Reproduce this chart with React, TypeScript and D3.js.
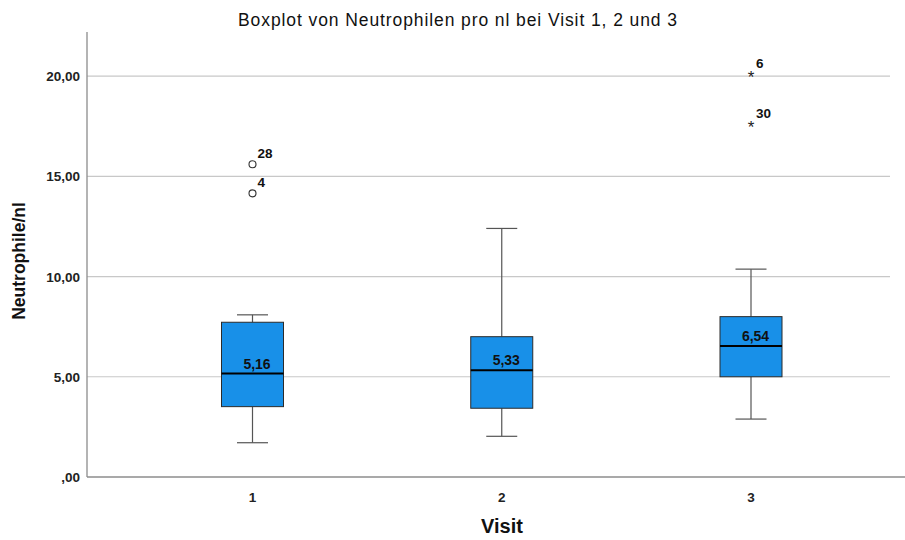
import { useEffect, useRef } from 'react';
import * as d3 from 'd3';

const visits = ['1', '2', '3'];
const lowWhisker = [1.71, 2.03, 2.89];
const q1 = [3.51, 3.43, 5.0];
const median = [5.16, 5.33, 6.54];
const q3 = [7.72, 7.0, 8.0];
const highWhisker = [8.09, 12.4, 10.37];
// outliers: visit, value, case id, kind
const outlierVisit = ['1', '1', '3', '3'];
const outlierValue = [15.6, 14.15, 20.1, 17.59];
const outlierCase = ['28', '4', '6', '30'];
const outlierKind = ['circle', 'circle', 'star', 'star'];
const yTicks = [0, 5, 10, 15, 20];

const fmt = (v: number) => (v === 0 ? ',00' : v.toFixed(2).replace('.', ','));

export default function App() {
  const ref = useRef<SVGSVGElement | null>(null);

  useEffect(() => {
    if (!ref.current) return;
    const svg = d3.select(ref.current);
    svg.selectAll('*').remove();

    const width = 905;
    const height = 540;
    const left = 87;
    const right = 890;
    const top = 32;
    const bottom = 477;

    const y = d3.scaleLinear().domain([0, 22.2]).range([bottom, top]);
    const x = d3.scalePoint().domain(visits).range([252.5, 751]);
    const boxW = 62;
    const capW = 31;
    const font = 'Arial, "Liberation Sans", sans-serif';

    svg.attr('width', width).attr('height', height).style('font-family', font);

    // grid
    svg.append('g')
      .selectAll('line')
      .data(yTicks.filter(t => t > 0))
      .join('line')
      .attr('x1', left).attr('x2', right)
      .attr('y1', d => y(d)).attr('y2', d => y(d))
      .attr('stroke', '#c8c8c8').attr('stroke-width', 1.2);

    // axes lines
    svg.append('line').attr('x1', left).attr('x2', left).attr('y1', top).attr('y2', bottom)
      .attr('stroke', '#8c8c8c').attr('stroke-width', 1.3);
    svg.append('line').attr('x1', left).attr('x2', width).attr('y1', bottom).attr('y2', bottom)
      .attr('stroke', '#8c8c8c').attr('stroke-width', 1.6);

    // y tick labels
    svg.append('g')
      .selectAll('text')
      .data(yTicks)
      .join('text')
      .attr('x', 80).attr('y', d => y(d) + 5)
      .attr('text-anchor', 'end')
      .attr('font-size', 13.5).attr('font-weight', 'bold').attr('fill', '#222')
      .text(d => fmt(d));

    // x tick labels
    svg.append('g')
      .selectAll('text')
      .data(visits)
      .join('text')
      .attr('x', d => x(d)!).attr('y', 502)
      .attr('text-anchor', 'middle')
      .attr('font-size', 13.5).attr('font-weight', 'bold').attr('fill', '#222')
      .text(d => d);

    const boxes = visits.map((v, i) => ({
      v, lo: lowWhisker[i], q1: q1[i], med: median[i], q3: q3[i], hi: highWhisker[i],
    }));
    const g = svg.append('g').selectAll('g').data(boxes).join('g');

    g.append('line')
      .attr('x1', d => x(d.v)!).attr('x2', d => x(d.v)!)
      .attr('y1', d => y(d.hi)).attr('y2', d => y(d.q3))
      .attr('stroke', '#555').attr('stroke-width', 1.2);
    g.append('line')
      .attr('x1', d => x(d.v)!).attr('x2', d => x(d.v)!)
      .attr('y1', d => y(d.q1)).attr('y2', d => y(d.lo))
      .attr('stroke', '#555').attr('stroke-width', 1.2);
    g.append('line')
      .attr('x1', d => x(d.v)! - capW / 2).attr('x2', d => x(d.v)! + capW / 2)
      .attr('y1', d => y(d.hi)).attr('y2', d => y(d.hi))
      .attr('stroke', '#555').attr('stroke-width', 1.2);
    g.append('line')
      .attr('x1', d => x(d.v)! - capW / 2).attr('x2', d => x(d.v)! + capW / 2)
      .attr('y1', d => y(d.lo)).attr('y2', d => y(d.lo))
      .attr('stroke', '#555').attr('stroke-width', 1.2);
    g.append('rect')
      .attr('x', d => x(d.v)! - boxW / 2).attr('width', boxW)
      .attr('y', d => y(d.q3)).attr('height', d => y(d.q1) - y(d.q3))
      .attr('fill', '#1890e8').attr('stroke', '#2b2b2b').attr('stroke-width', 1);
    g.append('line')
      .attr('x1', d => x(d.v)! - boxW / 2).attr('x2', d => x(d.v)! + boxW / 2)
      .attr('y1', d => y(d.med)).attr('y2', d => y(d.med))
      .attr('stroke', '#000').attr('stroke-width', 2);
    g.append('text')
      .attr('x', d => x(d.v)! + 4.5).attr('y', d => y(d.med) - 5)
      .attr('text-anchor', 'middle')
      .attr('font-size', 14).attr('font-weight', 'bold').attr('fill', '#111')
      .text(d => fmt(d.med));

    // outliers
    const outs = outlierValue.map((val, i) => ({
      v: outlierVisit[i], val, id: outlierCase[i], kind: outlierKind[i],
    }));
    const og = svg.append('g').selectAll('g').data(outs).join('g');
    og.filter(d => d.kind === 'circle')
      .append('circle')
      .attr('cx', d => x(d.v)!).attr('cy', d => y(d.val)).attr('r', 3.5)
      .attr('fill', 'white').attr('stroke', '#333').attr('stroke-width', 1.1);
    og.filter(d => d.kind === 'star')
      .append('text')
      .attr('x', d => x(d.v)!).attr('y', d => y(d.val) + 9)
      .attr('text-anchor', 'middle')
      .attr('font-size', 17).attr('fill', '#222')
      .text('*');
    og.append('text')
      .attr('x', d => x(d.v)! + 5).attr('y', d => y(d.val) - 6)
      .attr('font-size', 13.5).attr('font-weight', 'bold').attr('fill', '#111')
      .text(d => d.id);

    // titles
    svg.append('text')
      .attr('x', 457.5).attr('y', 26)
      .attr('text-anchor', 'middle')
      .attr('font-size', 17.5).attr('fill', '#111')
      .attr('textLength', 439).attr('lengthAdjust', 'spacing')
      .text('Boxplot von Neutrophilen pro nl bei Visit 1, 2 und 3');
    svg.append('text')
      .attr('transform', 'translate(25,261) rotate(-90)')
      .attr('text-anchor', 'middle')
      .attr('font-size', 17.5).attr('font-weight', 'bold').attr('fill', '#111')
      .text('Neutrophile/nl');
    svg.append('text')
      .attr('x', 502).attr('y', 533)
      .attr('text-anchor', 'middle')
      .attr('font-size', 20).attr('font-weight', 'bold').attr('fill', '#111')
      .text('Visit');
  }, []);

  return (
    <div style={{ position: 'absolute', left: 0, top: 0, background: 'white' }}>
      <svg ref={ref} />
    </div>
  );
}
